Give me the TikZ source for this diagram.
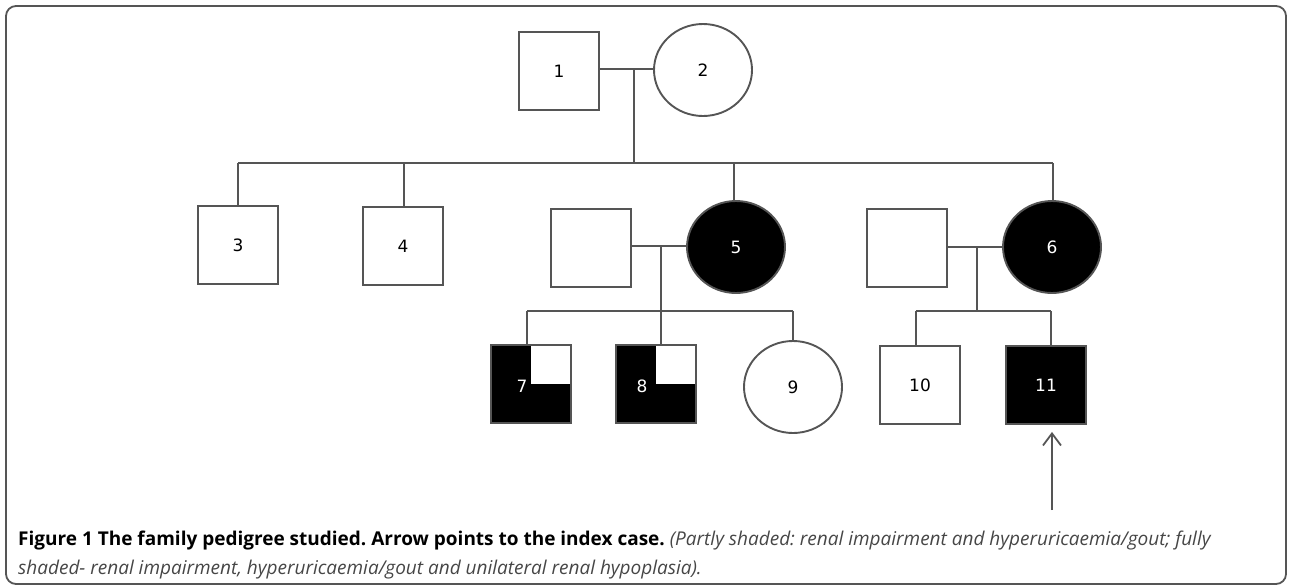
\documentclass[tikz,border=0pt]{standalone}
\usepackage{fontspec}
\setmainfont{DejaVu Sans}
\newfontfamily\capfont{Open Sans}
\usetikzlibrary{shapes.geometric,arrows.meta}
\definecolor{ln}{RGB}{85,85,85}
\definecolor{capgray}{RGB}{70,70,70}
\frenchspacing
\begin{document}
\begin{tikzpicture}[x=1pt,y=-1pt,
  line/.style={draw=ln, line width=1.9pt},
  numfont/.style={font=\fontsize{17}{17}\selectfont},
  male/.style={line, rectangle, minimum width=80pt, minimum height=78pt, inner sep=0pt, numfont},
  female/.style={line, ellipse, minimum width=98pt, minimum height=92pt, inner sep=0pt, numfont},
  aff/.style={fill=black, text=white},
  part/.style={fill=black, path picture={\fill[white] (path picture bounding box.north east) rectangle (path picture bounding box.center);}},
  caption/.style={anchor=base west, inner sep=0pt, font=\capfont\fontsize{19}{19}\selectfont}
]
\useasboundingbox (0,0) rectangle (1289,587);
\draw[draw=ln, line width=1.8pt, rounded corners=10pt] (6,6) rectangle (1286,584);

% generation I
\node[male] (n1) at (559,71) {1};
\node[female] (n2) at (703,70) {2};
% generation II
\node[male] (n3) at (238,245) {3};
\node[male] (n4) at (403,246) {4};
\node[male] (sp5) at (591,248) {};
\node[female, aff] (n5) at (736,247) {5};
\node[male] (sp6) at (907,248) {};
\node[female, aff] (n6) at (1052,247) {6};
% generation III
\node[male, part, label={[text=white, numfont, xshift=-9pt, yshift=-2pt]center:7}] (n7) at (531,384) {};
\node[male, part, label={[text=white, numfont, xshift=-14pt, yshift=-2pt]center:8}] (n8) at (656,384) {};
\node[female] (n9) at (793,387) {9};
\node[male] (n10) at (920,385) {10};
\node[male, aff] (n11) at (1046,385) {11};

% coordinates
\coordinate (m1) at (634,69);
\coordinate (b1) at (634,163);
\coordinate (bL) at (238,163);
\coordinate (b4) at (404,163);
\coordinate (b5) at (734,163);
\coordinate (bR) at (1053,163);
\coordinate (m5) at (661,246);
\coordinate (c5) at (661,311);
\coordinate (c7) at (527,311);
\coordinate (c9) at (793,311);
\coordinate (m6) at (977,247);
\coordinate (c6) at (977,311);
\coordinate (c10) at (916,311);
\coordinate (c11) at (1051,311);
\coordinate (arrtail) at (1052,510);

% marriages
\draw[line] (m1 -| n1.east) -- (m1 -| n2.west);
\draw[line] (m5 -| sp5.east) -- (m5 -| n5.west);
\draw[line] (m6 -| sp6.east) -- (m6 -| n6.west);
% generation I descent
\draw[line] (m1) -- (b1);
\draw[line] (bL) -- (bR);
\draw[line] (bL) -- (n3.north);
\draw[line] (b4) -- (b4 |- n4.north);
\draw[line] (b5) -- (b5 |- n5.north);
\draw[line] (bR) -- (bR |- n6.north);
% family of 5
\draw[line] (m5) -- (c5);
\draw[line] (c7) -- (c9);
\draw[line] (c7) -- (c7 |- n7.north);
\draw[line] (c5) -- (c5 |- n8.north);
\draw[line] (c9) -- (n9.north);
% family of 6
\draw[line] (m6) -- (c6);
\draw[line] (c10) -- (c11);
\draw[line] (c10) -- (c10 |- n10.north);
\draw[line] (c11) -- (c11 |- n11.north);
% index case arrow
\draw[draw=ln, line width=1.8pt, shorten >=7pt, -{Straight Barb[length=12pt,width=18pt,line width=1.8pt]}] (arrtail) -- (arrtail |- n11.south);

% caption
\node[caption] (cap1) at (18,545) {\textbf{Figure 1 The family pedigree studied. Arrow points to the index case.} \textcolor{capgray}{\itshape(Partly shaded: renal impairment and hyperuricaemia/gout; fully}};
\node[caption, text=capgray] (cap2) at (18,574) {\itshape shaded- renal impairment, hyperuricaemia/gout and unilateral renal hypoplasia).};
\end{tikzpicture}
\end{document}
